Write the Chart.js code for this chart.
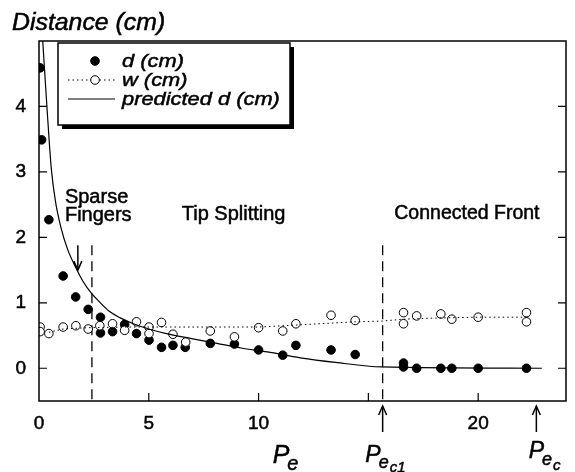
<!DOCTYPE html>
<html lang="en">
<head>
<meta charset="UTF-8">
<title>Distance vs Pe</title>
<script src="https://cdn.jsdelivr.net/npm/chart.js"></script>
<style>
    body { margin: 0; background: #fff; }
    #wrap { width: 575px; height: 472px; }
</style>
</head>
<body>
<div id="wrap"><canvas id="distChart" width="575" height="472"></canvas></div>
<script>
    // measured finger distance d (filled circles)
    const dX = [0.05, 0.12, 0.45, 1.1, 1.67, 2.24, 2.8, 2.8, 3.35, 3.9, 4.44, 5.01, 5.58, 6.1, 6.66, 7.8, 8.9, 10.0, 11.1, 11.7, 13.3, 14.4, 16.6, 16.6, 17.2, 18.3, 18.8, 20.0, 22.2];
    const dY = [4.59, 3.49, 2.27, 1.41, 1.09, 0.9, 0.78, 0.54, 0.56, 0.67, 0.53, 0.43, 0.32, 0.35, 0.32, 0.38, 0.37, 0.28, 0.2, 0.35, 0.28, 0.21, 0.08, 0.02, 0, 0, 0, 0, 0];

    // measured finger width w (open circles)
    const wX = [0.05, 0.05, 0.45, 1.1, 1.68, 2.24, 2.77, 3.35, 3.9, 4.44, 5.01, 5.01, 5.58, 6.1, 6.68, 7.8, 8.9, 10.0, 11.1, 11.7, 13.3, 14.4, 16.6, 16.6, 17.2, 18.3, 18.8, 20.0, 22.2, 22.2];
    const wY = [0.63, 0.56, 0.53, 0.63, 0.65, 0.6, 0.65, 0.68, 0.58, 0.71, 0.63, 0.53, 0.7, 0.52, 0.4, 0.57, 0.48, 0.62, 0.57, 0.68, 0.81, 0.73, 0.85, 0.68, 0.8, 0.83, 0.75, 0.78, 0.85, 0.71];

    // dotted trend through w
    const wFitX = [0.45, 1.1, 2.2, 4, 6, 8, 10, 11.7, 13.3, 14.4, 15.6, 16.6, 18.3, 20, 22.2];
    const wFitY = [0.55, 0.6, 0.62, 0.63, 0.63, 0.63, 0.63, 0.66, 0.69, 0.71, 0.72, 0.75, 0.77, 0.78, 0.78];

    // predicted d curve
    const predX = [0.17, 0.36, 0.56, 0.75, 1.0, 1.3, 1.7, 2.0, 2.4, 2.8, 3.2, 3.7, 4.3, 5.0, 5.8, 7.0, 8.1, 9.2, 10.4, 11.9, 13.5, 15.6, 22.9];
    const predY = [5.0, 4.0, 3.05, 2.55, 2.15, 1.82, 1.52, 1.33, 1.14, 1.0, 0.87, 0.77, 0.68, 0.6, 0.53, 0.45, 0.38, 0.31, 0.25, 0.16, 0.09, 0.02, 0];

    const xTicks = [0, 5, 10, 20];
    const xTickMarks = [5, 10, 15, 20];
    const yTicks = [0, 1, 2, 3, 4];

    const sparseEdge = 2.41;   // dashed line, sparse fingers / tip splitting
    const peC1 = 15.65;        // dashed line, tip splitting / connected front
    const peC = 22.65;
    const dashTop = 1.88;

    const FONT = '"Liberation Sans", Arial, Helvetica, sans-serif';
    Chart.defaults.font.family = FONT;
    Chart.defaults.color = '#000';

    const pts = (xs, ys) => xs.map((x, i) => ({ x: x, y: ys[i] }));

    // text with optional horizontal stretch and a thin stroke (scan looks heavy)
    function text(ctx, str, x, y, size, italic, sx) {
        ctx.save();
        ctx.font = (italic ? 'italic ' : '') + size + 'px ' + FONT;
        ctx.translate(x, y);
        ctx.scale(sx || 1, 1);
        ctx.lineWidth = 0.5;
        ctx.strokeStyle = '#000';
        ctx.fillText(str, 0, 0);
        ctx.strokeText(str, 0, 0);
        const w = ctx.measureText(str).width * (sx || 1);
        ctx.restore();
        return w;
    }

    function arrow(ctx, x, yTail, yTip) {
        const dir = yTip > yTail ? 1 : -1;
        ctx.beginPath();
        ctx.moveTo(x, yTail);
        ctx.lineTo(x, yTip);
        ctx.stroke();
        ctx.beginPath();
        ctx.moveTo(x - 4, yTip - dir * 9);
        ctx.lineTo(x, yTip);
        ctx.lineTo(x + 4, yTip - dir * 9);
        ctx.stroke();
    }

    const framePlugin = {
        id: 'frame',
        beforeDatasetsDraw(chart) {
            const { ctx, chartArea: a, scales: { x, y } } = chart;
            ctx.save();
            ctx.strokeStyle = '#000';
            // regime separators
            ctx.lineWidth = 1.3;
            ctx.setLineDash([10, 6]);
            [sparseEdge, peC1].forEach(v => {
                ctx.beginPath();
                ctx.moveTo(x.getPixelForValue(v), y.getPixelForValue(dashTop));
                ctx.lineTo(x.getPixelForValue(v), a.bottom);
                ctx.stroke();
            });
            ctx.setLineDash([]);
            // inward ticks
            ctx.lineWidth = 1.2;
            xTickMarks.forEach(v => {
                const px = x.getPixelForValue(v);
                ctx.beginPath();
                ctx.moveTo(px, a.bottom);
                ctx.lineTo(px, a.bottom - 8);
                ctx.stroke();
            });
            yTicks.forEach(v => {
                const py = y.getPixelForValue(v);
                ctx.beginPath();
                ctx.moveTo(a.left, py);
                ctx.lineTo(a.left + 8, py);
                ctx.moveTo(a.right, py);
                ctx.lineTo(a.right - 8, py);
                ctx.stroke();
            });
            ctx.restore();
        },
        afterDatasetsDraw(chart) {
            const { ctx, chartArea: a } = chart;
            ctx.save();
            ctx.strokeStyle = '#000';
            ctx.lineWidth = 1.5;
            ctx.strokeRect(a.left, a.top, a.right - a.left, a.bottom - a.top);

            // legend box with drop shadow
            const bx = 58, by = 43, bw = 232, bh = 82;
            ctx.fillStyle = '#000';
            ctx.fillRect(bx + 4, by + 4, bw, bh);
            ctx.fillStyle = '#fff';
            ctx.fillRect(bx, by, bw, bh);
            ctx.strokeRect(bx, by, bw, bh);

            const ds = chart.data.datasets;
            const rows = [ds[3], ds[2], ds[0]];
            ctx.textBaseline = 'middle';
            rows.forEach((d, i) => {
                const cy = 61 + i * 19;
                ctx.lineWidth = 1;
                if (d.showLine || d.label === 'w (cm)') {
                    ctx.setLineDash(d.showLine ? [] : [1.5, 3]);
                    ctx.beginPath();
                    ctx.moveTo(68, cy);
                    ctx.lineTo(115, cy);
                    ctx.stroke();
                    ctx.setLineDash([]);
                }
                if (!d.showLine) {
                    ctx.beginPath();
                    ctx.arc(95, cy, 4.3, 0, Math.PI * 2);
                    ctx.fillStyle = d.backgroundColor;
                    ctx.fill();
                    ctx.stroke();
                }
                ctx.fillStyle = '#000';
                text(ctx, d.label, 122, cy + 1, 19, true, 1.15);
            });
            ctx.restore();
        },
        afterDraw(chart) {
            const { ctx, chartArea: a, scales: { x, y } } = chart;
            ctx.save();
            ctx.fillStyle = '#000';
            ctx.strokeStyle = '#000';
            ctx.textBaseline = 'alphabetic';

            text(ctx, 'Distance (cm)', 12, 30, 23, true, 1.08);

            text(ctx, 'Sparse', x.getPixelForValue(1.18), y.getPixelForValue(2.53), 20, false, 1);
            text(ctx, 'Fingers', x.getPixelForValue(1.18), y.getPixelForValue(2.25), 20, false, 1);
            text(ctx, 'Tip Splitting', x.getPixelForValue(6.5), y.getPixelForValue(2.27), 20, false, 1);
            text(ctx, 'Connected Front', x.getPixelForValue(16.18), y.getPixelForValue(2.28), 19.5, false, 1);

            ctx.lineWidth = 1.5;
            arrow(ctx, x.getPixelForValue(1.77), y.getPixelForValue(1.88), y.getPixelForValue(1.5));
            arrow(ctx, x.getPixelForValue(peC1), a.bottom + 31, a.bottom + 5);
            arrow(ctx, x.getPixelForValue(peC), a.bottom + 31, a.bottom + 5);

            // axis symbols
            let px = x.getPixelForValue(10.64);
            px += text(ctx, 'P', px, a.bottom + 62, 25, true, 1);
            text(ctx, 'e', px - 2, a.bottom + 69, 20, true, 1);

            px = x.getPixelForValue(14.86);
            px += text(ctx, 'P', px, a.bottom + 61, 23, true, 1);
            px += text(ctx, 'e', px - 2, a.bottom + 67, 18, true, 1);
            text(ctx, 'c1', px - 1, a.bottom + 71, 15, true, 1);

            px = x.getPixelForValue(22.3);
            px += text(ctx, 'P', px, a.bottom + 57, 23, true, 1);
            px += text(ctx, 'e', px - 2, a.bottom + 64, 18, true, 1);
            text(ctx, 'c', px - 1, a.bottom + 69, 15, true, 1);
            ctx.restore();
        }
    };

    const ctx = document.getElementById('distChart').getContext('2d');

    const distChart = new Chart(ctx, {
        type: 'scatter',
        data: {
            datasets: [
                {
                    label: 'predicted d (cm)',
                    data: pts(predX, predY),
                    showLine: true,
                    borderColor: '#000',
                    borderWidth: 1.2,
                    pointRadius: 0,
                    tension: 0.4,
                    cubicInterpolationMode: 'monotone'
                },
                {
                    label: 'w trend',
                    data: pts(wFitX, wFitY),
                    showLine: true,
                    borderColor: '#000',
                    borderWidth: 1,
                    borderDash: [1.5, 3],
                    pointRadius: 0
                },
                {
                    label: 'w (cm)',
                    data: pts(wX, wY),
                    pointRadius: 4.3,
                    backgroundColor: '#fff',
                    borderColor: '#000',
                    borderWidth: 1
                },
                {
                    label: 'd (cm)',
                    data: pts(dX, dY),
                    pointRadius: 4.3,
                    backgroundColor: '#000',
                    borderColor: '#000',
                    borderWidth: 1
                }
            ]
        },
        options: {
            responsive: false,
            animation: false,
            layout: { padding: { top: 41, right: 9, left: 0, bottom: 0 } },
            plugins: {
                legend: { display: false },
                tooltip: { enabled: false }
            },
            scales: {
                x: {
                    type: 'linear',
                    min: 0,
                    max: 24,
                    afterBuildTicks: s => { s.ticks = xTicks.map(v => ({ value: v })); },
                    afterFit: s => { s.height = 71; },
                    grid: { display: false, drawTicks: false },
                    border: { display: false },
                    ticks: { padding: 11, font: { size: 19 }, color: '#000', textStrokeColor: '#000', textStrokeWidth: 0.5, maxRotation: 0, autoSkip: false }
                },
                y: {
                    min: -0.5,
                    max: 5,
                    afterBuildTicks: s => { s.ticks = yTicks.map(v => ({ value: v })); },
                    afterFit: s => { s.width = 39; },
                    grid: { display: false, drawTicks: false },
                    border: { display: false },
                    ticks: { padding: 13, font: { size: 19 }, color: '#000', textStrokeColor: '#000', textStrokeWidth: 0.5 }
                }
            }
        },
        plugins: [framePlugin]
    });
</script>
</body>
</html>
